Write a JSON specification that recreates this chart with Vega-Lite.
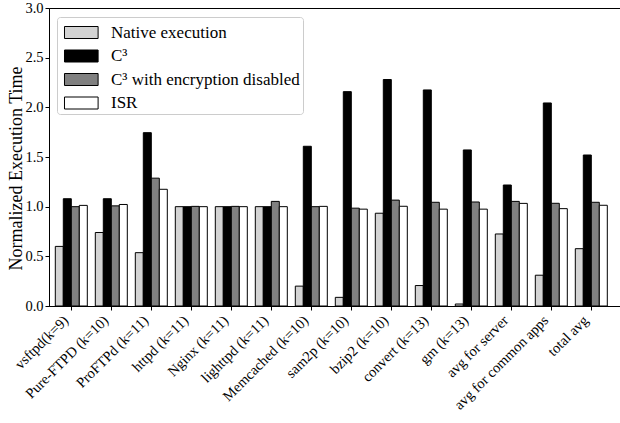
{
  "$schema": "https://vega.github.io/schema/vega-lite/v6.json",
  "autosize": "none",
  "width": 571,
  "height": 298,
  "padding": {"left": 49, "top": 8, "right": 0, "bottom": 117},
  "background": "white",
  "config": {
    "font": "Liberation Serif",
    "view": {"stroke": "black", "strokeWidth": 1},
    "style": {"guide-label": {"font": "Liberation Serif"}, "guide-title": {"font": "Liberation Serif"}},
    "axis": {"domainColor": "black", "tickColor": "black", "labelColor": "black", "titleColor": "black", "grid": false, "labelFont": "Liberation Serif", "titleFont": "Liberation Serif", "titleFontWeight": "normal"},
    "legend": {"labelFont": "Liberation Serif", "titleFont": "Liberation Serif"}
  },
  "data": {
    "values": [
      {"app": "vsftpd(k=9)", "series": "Native execution", "value": 0.60},
      {"app": "vsftpd(k=9)", "series": "C³", "value": 1.08},
      {"app": "vsftpd(k=9)", "series": "C³ with encryption disabled", "value": 1.00},
      {"app": "vsftpd(k=9)", "series": "ISR", "value": 1.013},
      {"app": "Pure-FTPD (k=10)", "series": "Native execution", "value": 0.74},
      {"app": "Pure-FTPD (k=10)", "series": "C³", "value": 1.08},
      {"app": "Pure-FTPD (k=10)", "series": "C³ with encryption disabled", "value": 1.008},
      {"app": "Pure-FTPD (k=10)", "series": "ISR", "value": 1.022},
      {"app": "ProFTPd (k=11)", "series": "Native execution", "value": 0.537},
      {"app": "ProFTPd (k=11)", "series": "C³", "value": 1.745},
      {"app": "ProFTPd (k=11)", "series": "C³ with encryption disabled", "value": 1.287},
      {"app": "ProFTPd (k=11)", "series": "ISR", "value": 1.175},
      {"app": "httpd (k=11)", "series": "Native execution", "value": 1.0},
      {"app": "httpd (k=11)", "series": "C³", "value": 1.0},
      {"app": "httpd (k=11)", "series": "C³ with encryption disabled", "value": 1.003},
      {"app": "httpd (k=11)", "series": "ISR", "value": 1.0},
      {"app": "Nginx (k=11)", "series": "Native execution", "value": 1.0},
      {"app": "Nginx (k=11)", "series": "C³", "value": 1.0},
      {"app": "Nginx (k=11)", "series": "C³ with encryption disabled", "value": 1.003},
      {"app": "Nginx (k=11)", "series": "ISR", "value": 1.0},
      {"app": "lighttpd (k=11)", "series": "Native execution", "value": 1.0},
      {"app": "lighttpd (k=11)", "series": "C³", "value": 1.0},
      {"app": "lighttpd (k=11)", "series": "C³ with encryption disabled", "value": 1.053},
      {"app": "lighttpd (k=11)", "series": "ISR", "value": 1.0},
      {"app": "Memcached (k=10)", "series": "Native execution", "value": 0.20},
      {"app": "Memcached (k=10)", "series": "C³", "value": 1.608},
      {"app": "Memcached (k=10)", "series": "C³ with encryption disabled", "value": 1.0},
      {"app": "Memcached (k=10)", "series": "ISR", "value": 1.003},
      {"app": "sam2p (k=10)", "series": "Native execution", "value": 0.087},
      {"app": "sam2p (k=10)", "series": "C³", "value": 2.158},
      {"app": "sam2p (k=10)", "series": "C³ with encryption disabled", "value": 0.985},
      {"app": "sam2p (k=10)", "series": "ISR", "value": 0.975},
      {"app": "bzip2 (k=10)", "series": "Native execution", "value": 0.934},
      {"app": "bzip2 (k=10)", "series": "C³", "value": 2.28},
      {"app": "bzip2 (k=10)", "series": "C³ with encryption disabled", "value": 1.066},
      {"app": "bzip2 (k=10)", "series": "ISR", "value": 1.004},
      {"app": "convert (k=13)", "series": "Native execution", "value": 0.206},
      {"app": "convert (k=13)", "series": "C³", "value": 2.175},
      {"app": "convert (k=13)", "series": "C³ with encryption disabled", "value": 1.044},
      {"app": "convert (k=13)", "series": "ISR", "value": 0.975},
      {"app": "gm (k=13)", "series": "Native execution", "value": 0.02},
      {"app": "gm (k=13)", "series": "C³", "value": 1.571},
      {"app": "gm (k=13)", "series": "C³ with encryption disabled", "value": 1.047},
      {"app": "gm (k=13)", "series": "ISR", "value": 0.975},
      {"app": "avg for server", "series": "Native execution", "value": 0.725},
      {"app": "avg for server", "series": "C³", "value": 1.218},
      {"app": "avg for server", "series": "C³ with encryption disabled", "value": 1.053},
      {"app": "avg for server", "series": "ISR", "value": 1.033},
      {"app": "avg for common apps", "series": "Native execution", "value": 0.31},
      {"app": "avg for common apps", "series": "C³", "value": 2.044},
      {"app": "avg for common apps", "series": "C³ with encryption disabled", "value": 1.034},
      {"app": "avg for common apps", "series": "ISR", "value": 0.98},
      {"app": "total avg", "series": "Native execution", "value": 0.577},
      {"app": "total avg", "series": "C³", "value": 1.52},
      {"app": "total avg", "series": "C³ with encryption disabled", "value": 1.044},
      {"app": "total avg", "series": "ISR", "value": 1.014}
    ]
  },
  "mark": {"type": "bar", "stroke": "black", "strokeWidth": 1, "opacity": 1},
  "encoding": {
    "x": {
      "field": "app", "type": "nominal", "sort": null,
      "scale": {"paddingInner": 0, "paddingOuter": 0.1375, "align": 0.21},
      "axis": {"title": null, "labelAngle": -45, "labelAlign": "right", "labelBaseline": "bottom", "labelFontSize": 14.5, "tickSize": 4, "labelPadding": 13, "labelOverlap": false, "labelBound": false}
    },
    "xOffset": {
      "field": "series", "type": "nominal",
      "sort": ["Native execution", "C³", "C³ with encryption disabled", "ISR"],
      "scale": {"paddingInner": 0, "paddingOuter": 0.5}
    },
    "y": {
      "field": "value", "type": "quantitative",
      "scale": {"domain": [0, 3], "nice": false, "zero": true},
      "axis": {"title": "Normalized Execution Time", "values": [0, 0.5, 1, 1.5, 2, 2.5, 3], "format": ".1f", "labelFontSize": 14.5, "titleFontSize": 18, "tickSize": 4, "labelPadding": 2, "titleX": -24, "titleY": 160, "titleBaseline": "bottom"}
    },
    "color": {
      "field": "series", "type": "nominal",
      "sort": ["Native execution", "C³", "C³ with encryption disabled", "ISR"],
      "scale": {"domain": ["Native execution", "C³", "C³ with encryption disabled", "ISR"], "range": ["#d3d3d3", "#000000", "#808080", "#ffffff"]},
      "legend": {
        "title": null, "orient": "none", "legendX": 8, "legendY": 9,
        "padding": 3, "fillColor": "white", "strokeColor": "#cccccc", "cornerRadius": 3,
        "symbolType": "M-0.667,-0.5H2.133V0.5H-0.667Z", "symbolSize": 576,
        "symbolStrokeColor": "black", "symbolStrokeWidth": 1, "symbolOpacity": 1,
        "labelFontSize": 17, "labelFont": "Liberation Serif", "labelColor": "black", "labelOffset": 26,
        "rowPadding": 2.5, "labelLimit": 400
      }
    }
  }
}
